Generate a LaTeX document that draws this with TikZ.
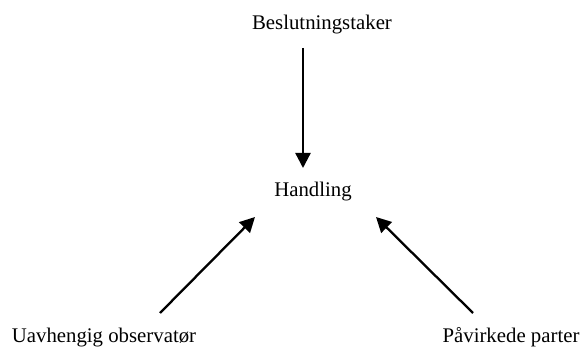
\documentclass[tikz,border=0pt]{standalone}
\usepackage{fontspec}
\setmainfont{Liberation Serif}
\usetikzlibrary{arrows.meta}
\begin{document}
\begin{tikzpicture}[x = 1pt, y = -1pt,
    lbl/.style = {inner sep = 0pt, anchor = base,
      font = \fontsize{20.8}{24}\selectfont},
    pil/.style = {line width = 2.3pt,
      -{Triangle[length = 15pt, width = 15pt]}}]
      \useasboundingbox (0,0) rectangle (584,347);
      \node [lbl] (besl)     at (322,30)  {Beslutningstaker};
      \node [lbl] (handling) at (313,197) {Handling};
      \node [lbl] (obs)      at (104,343) {Uavhengig observatør};
      \node [lbl] (parter)   at (511,343) {Påvirkede parter};
      % ends of the arrows
      \coordinate (besl-ut)  at (303,48);
      \coordinate (obs-ut)   at (160,313);
      \coordinate (part-ut)  at (473,313);
      \coordinate (h-topp)   at (303,168);
      \coordinate (h-venstre) at (255,217);
      \coordinate (h-hoyre)  at (376,217);
      \draw [pil] (besl-ut) -- (h-topp);
      \draw [pil] (obs-ut) -- (h-venstre);
      \draw [pil] (part-ut) -- (h-hoyre);
  \end{tikzpicture}
\end{document}
